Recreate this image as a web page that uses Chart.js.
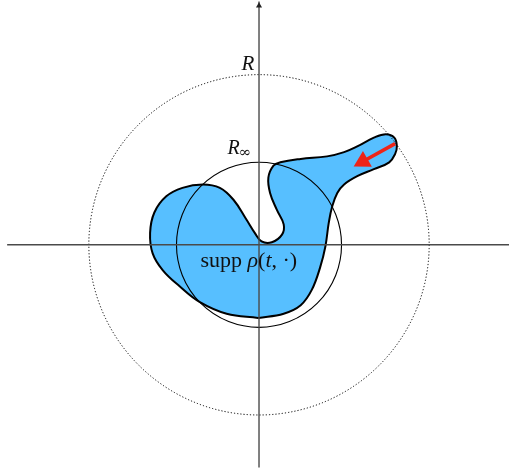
<!DOCTYPE html>
<html>
<head>
<meta charset="utf-8">
<script src="https://cdn.jsdelivr.net/npm/chart.js@4.4.1/dist/chart.umd.min.js"></script>
<style>
  html, body { margin: 0; padding: 0; background: #ffffff; }
  #c { display: block; }
</style>
</head>
<body>
<canvas id="c" width="509" height="471"></canvas>
<script>
// ---- Data (units: R = 2) ----
// Outline of supp rho(t, .) (closed curve, last point = first point)
const blobX = [-0.01, 0.29, 0.49, 0.62, 0.72, 0.78, 0.82, 0.86, 0.92, 1.00, 1.16, 1.35, 1.53, 1.60, 1.62, 1.59, 1.49, 1.35, 1.16, 1.00, 0.80, 0.49, 0.25, 0.17, 0.11, 0.13, 0.21, 0.29, 0.27, 0.15, 0.03, -0.05, -0.15, -0.30, -0.46, -0.66, -0.90, -1.09, -1.23, -1.28, -1.25, -1.13, -0.93, -0.70, -0.38, -0.01];
const blobY = [-0.86, -0.81, -0.71, -0.53, -0.26, -0.02, 0.26, 0.45, 0.61, 0.71, 0.81, 0.89, 0.97, 1.07, 1.16, 1.26, 1.30, 1.26, 1.16, 1.09, 1.04, 1.01, 0.97, 0.93, 0.79, 0.61, 0.41, 0.24, 0.12, 0.03, 0.04, 0.14, 0.30, 0.53, 0.67, 0.71, 0.67, 0.57, 0.38, 0.14, -0.10, -0.30, -0.49, -0.67, -0.81, -0.86];

// Circles: R (dotted) and R_inf (solid)
const circleNames = ['R', 'R∞'];
const circleRadii = [2.0, 0.97];

// Red arrow: tail, head centre, head centre
const arrowX = [1.60, 1.22, 1.22];
const arrowY = [1.19, 0.98, 0.98];

// Axes extents
const axisHX = [-2.96, 2.96];
const axisHY = [0, 0];
const axisVX = [0, 0, 0];
const axisVY = [-2.62, 2.81, 2.86];

// Labels
const labelTexts = ['R', 'R', '∞', 'supp ', 'ρ', '(', 't', ', ·)'];
const labelX = [-0.13, -0.37, -0.12];
const labelY = [2.05, 1.07, -0.26];

// ---- Helpers ----
const pts = (xs, ys) => xs.map((x, i) => ({ x: x, y: ys[i] }));

const circlePlugin = {
  id: 'circles',
  afterDatasetDraw(chart, args) {
    if (args.index !== 0) return;
    const xs = chart.scales.x, ys = chart.scales.y;
    const cx = xs.getPixelForValue(0), cy = ys.getPixelForValue(0);
    const ctx = chart.ctx;
    circleRadii.forEach((r, i) => {
      const rp = xs.getPixelForValue(r) - cx;
      ctx.save();
      ctx.beginPath();
      ctx.arc(cx, cy, rp, 0, Math.PI * 2);
      ctx.strokeStyle = '#000';
      if (i === 0) {
        ctx.lineWidth = 1;
        ctx.setLineDash([1.2, 2.0]);
      } else {
        ctx.lineWidth = 1.1;
      }
      ctx.stroke();
      ctx.restore();
    });
  }
};

const ROMAN = '"Liberation Serif", serif';
const labelPlugin = {
  id: 'labels',
  afterDatasetsDraw(chart) {
    const xs = chart.scales.x, ys = chart.scales.y;
    const ctx = chart.ctx;
    ctx.save();
    ctx.fillStyle = '#111';
    ctx.textBaseline = 'alphabetic';
    // R
    ctx.font = 'italic 21px ' + ROMAN;
    ctx.textAlign = 'center';
    ctx.fillText(labelTexts[0], xs.getPixelForValue(labelX[0]), ys.getPixelForValue(labelY[0]));
    // R_inf
    ctx.textAlign = 'left';
    const rx = xs.getPixelForValue(labelX[1]);
    const ry = ys.getPixelForValue(labelY[1]);
    ctx.font = 'italic 20px ' + ROMAN;
    ctx.fillText(labelTexts[1], rx, ry);
    const w = ctx.measureText(labelTexts[1]).width;
    ctx.font = '15px "DejaVu Serif", serif';
    ctx.fillText(labelTexts[2], rx + w - 1, ry + 3);
    // supp rho(t, .)  -- roman / italic runs
    const runs = [
      [labelTexts[3], '22px ' + ROMAN],
      [labelTexts[4], 'italic 22px ' + ROMAN],
      [labelTexts[5], '22px ' + ROMAN],
      [labelTexts[6], 'italic 22px ' + ROMAN],
      [labelTexts[7], '22px ' + ROMAN]
    ];
    let total = 0;
    runs.forEach(r => { ctx.font = r[1]; total += ctx.measureText(r[0]).width; });
    let x = xs.getPixelForValue(labelX[2]) - total / 2;
    const y = ys.getPixelForValue(labelY[2]);
    runs.forEach(r => {
      ctx.font = r[1];
      ctx.fillText(r[0], x, y);
      x += ctx.measureText(r[0]).width;
    });
    ctx.restore();
  }
};

new Chart(document.getElementById('c'), {
  type: 'line',
  data: {
    datasets: [
      {
        label: 'supp',
        data: pts(blobX, blobY),
        borderColor: '#000',
        borderWidth: 2,
        backgroundColor: '#57bfff',
        fill: 'shape',
        tension: 0.4,
        pointRadius: 0,
        order: 5
      },
      {
        label: 'axisH',
        data: pts(axisHX, axisHY),
        borderColor: '#4a4a4a',
        borderWidth: 1.4,
        fill: false,
        tension: 0,
        pointRadius: 0,
        order: 3
      },
      {
        label: 'axisV',
        data: pts(axisVX, axisVY),
        borderColor: '#4a4a4a',
        borderWidth: 1.4,
        fill: false,
        tension: 0,
        pointRadius: [0, 3.5, 0],
        pointStyle: 'triangle',
        pointBackgroundColor: '#222',
        pointBorderColor: '#222',
        pointBorderWidth: 0,
        order: 3
      },
      {
        label: 'arrow',
        data: pts(arrowX, arrowY),
        borderColor: '#ee2418',
        borderWidth: 3.5,
        fill: false,
        tension: 0,
        pointRadius: [0, 10.5, 0],
        pointStyle: 'triangle',
        rotation: 240.8,
        pointBackgroundColor: '#ee2418',
        pointBorderColor: '#ee2418',
        pointBorderWidth: 0,
        order: 1
      }
    ]
  },
  options: {
    responsive: false,
    animation: false,
    devicePixelRatio: 1,
    layout: { padding: 0 },
    plugins: { legend: { display: false }, tooltip: { enabled: false } },
    scales: {
      x: { type: 'linear', min: -3.044, max: 2.938, display: false },
      y: { type: 'linear', min: -2.660, max: 2.879, display: false }
    },
    elements: { line: { capBezierPoints: false } }
  },
  plugins: [circlePlugin, labelPlugin]
});
</script>
</body>
</html>
